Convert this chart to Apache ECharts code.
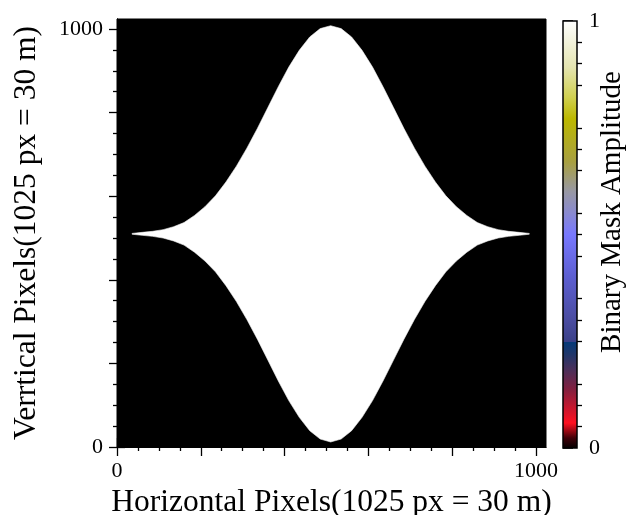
<!DOCTYPE html>
<html>
<head>
<meta charset="utf-8">
<script src="https://cdn.jsdelivr.net/npm/echarts@6/dist/echarts.min.js"></script>
<style>
  html, body { margin: 0; padding: 0; background: #fff; }
  #chart { width: 634px; height: 515px; }
</style>
</head>
<body>
<div id="chart"></div>
<script>
// Mask boundary: column positions and half-height of the white region about its centre row
const maskCenter = 510;
const maskX = [36, 60, 85, 110, 135, 160, 185, 210, 235, 260, 285, 310, 335, 360, 385, 410, 435, 460, 485, 510,
               535, 560, 585, 610, 635, 660, 685, 710, 735, 760, 785, 810, 835, 860, 885, 910, 935, 960, 984];
const maskHalf = [1, 3.5, 6, 10, 17, 27, 44, 65, 91, 124, 162, 205, 252, 302, 352, 399, 439, 471, 491, 498,
                  491, 471, 439, 399, 352, 302, 252, 205, 162, 124, 91, 65, 44, 27, 17, 10, 6, 3.5, 1];

// Axis extents and tick positions
const axisMax = 1024;
const majorTicks = [0, 200, 400, 600, 800, 1000];
const minorTicks = [50, 100, 150, 250, 300, 350, 450, 500, 550, 650, 700, 750, 850, 900, 950];
const tickLabels = [0, 1000];

// Colour bar
const barMajorTicks = [0, 0.2, 0.4, 0.6, 0.8, 1];
const barMinorTicks = [0.05, 0.1, 0.15, 0.25, 0.3, 0.35, 0.45, 0.5, 0.55, 0.65, 0.7, 0.75, 0.85, 0.9, 0.95];
const barLabels = [0, 1];
const barStops = [
  [0.00, '#000000'], [0.025, '#400008'], [0.06, '#ff1020'], [0.10, '#c01830'], [0.14, '#802040'],
  [0.18, '#502e58'], [0.22, '#20366a'], [0.249, '#053a78'], [0.2495, '#3a4088'], [0.30, '#4a4ca0'],
  [0.40, '#5c5ed0'], [0.50, '#7878ff'], [0.55, '#8a8ad0'], [0.60, '#9898a4'], [0.67, '#a8a040'],
  [0.77, '#bcb800'], [0.82, '#d0d050'], [0.89, '#e4e4b0'], [0.955, '#f4f4e0'], [1.00, '#ffffff']
];
const barTitle = 'Binary Mask Amplitude';

const FONT = 'Liberation Serif';
const plot = { left: 117, top: 19, width: 429, height: 428 };
const bar = { left: 563, top: 21, width: 14, height: 427 };

function plain(v) { return String(v); }

function valueAxis(gridIndex, position, ticks, len, opts) {
  return Object.assign({
    type: 'value', gridIndex: gridIndex, position: position, min: 0, max: axisMax,
    splitLine: { show: false },
    axisLine: { show: false },
    axisTick: { show: true, inside: false, length: len, customValues: ticks, lineStyle: { color: '#000', width: 1.3 } },
    axisLabel: { show: false }
  }, opts || {});
}

const labelStyle = { show: true, customValues: tickLabels, formatter: plain, color: '#000', fontFamily: FONT, fontSize: 22 };
const lineOn = { show: true, lineStyle: { color: '#000', width: 1 } };
const fixedGrid = { outerBoundsMode: 'none', containLabel: false };

const chart = echarts.init(document.getElementById('chart'), null, { renderer: 'canvas' });
chart.setOption({
  backgroundColor: '#fff',
  animation: false,
  grid: [
    Object.assign({ show: true, backgroundColor: '#000', borderColor: '#000', borderWidth: 1 }, fixedGrid, plot),
    Object.assign({ show: false }, fixedGrid, plot),
    Object.assign({ show: false }, fixedGrid, bar)
  ],
  xAxis: [
    valueAxis(0, 'bottom', majorTicks, 9, {
      axisLine: lineOn,
      axisLabel: Object.assign({ margin: 13 }, labelStyle),
      name: 'Horizontal Pixels(1025 px = 30 m)', nameLocation: 'middle', nameGap: 36,
      nameTextStyle: { color: '#000', fontFamily: FONT, fontSize: 31.5 }
    }),
    valueAxis(0, 'top', majorTicks, 9, { axisLine: lineOn }),
    valueAxis(1, 'bottom', minorTicks, 4),
    valueAxis(1, 'top', minorTicks, 4),
    { type: 'value', gridIndex: 2, min: 0, max: 1, show: false }
  ],
  yAxis: [
    valueAxis(0, 'left', majorTicks, 8, {
      axisLine: lineOn,
      axisLabel: Object.assign({ margin: 14 }, labelStyle),
      name: 'Verrtical Pixels(1025 px = 30 m)', nameLocation: 'middle', nameGap: 74, nameRotate: 90,
      nameTextStyle: { color: '#000', fontFamily: FONT, fontSize: 31.5 }
    }),
    valueAxis(0, 'right', majorTicks, 8, { axisLine: lineOn }),
    valueAxis(1, 'left', minorTicks, 4),
    valueAxis(1, 'right', minorTicks, 4),
    {
      type: 'value', gridIndex: 2, position: 'right', min: 0, max: 1,
      splitLine: { show: false },
      axisLine: { show: false },
      axisTick: { show: true, length: 10, customValues: barMajorTicks, lineStyle: { color: '#000', width: 1.5 } },
      axisLabel: { show: true, customValues: barLabels, formatter: plain, margin: 12, color: '#000', fontFamily: FONT, fontSize: 22 }
    },
    {
      type: 'value', gridIndex: 2, position: 'right', min: 0, max: 1,
      splitLine: { show: false }, axisLine: { show: false }, axisLabel: { show: false },
      axisTick: { show: true, length: 5, customValues: barMinorTicks, lineStyle: { color: '#000', width: 1.3 } }
    }
  ],
  graphic: [{
    type: 'text', x: 612, y: 212, rotation: Math.PI / 2,
    style: { text: barTitle, fill: '#000', font: '29px "' + FONT + '"', align: 'center', verticalAlign: 'middle' }
  }],
  series: [
    {
      // White region of the mask: upper boundary left-to-right, lower boundary back
      type: 'custom', xAxisIndex: 0, yAxisIndex: 0, clip: true,
      data: [[0, 0]],
      renderItem: function (params, api) {
        const pts = [];
        for (let i = 0; i < maskX.length; i++) pts.push(api.coord([maskX[i], maskCenter + maskHalf[i]]));
        for (let i = maskX.length - 1; i >= 0; i--) pts.push(api.coord([maskX[i], maskCenter - maskHalf[i]]));
        return { type: 'polygon', shape: { points: pts }, style: { fill: '#ffffff', stroke: '#f4f4f4', lineWidth: 0.6 } };
      }
    },
    {
      // Colour bar body
      type: 'custom', xAxisIndex: 4, yAxisIndex: 4,
      data: [[0, 0]],
      renderItem: function (params, api) {
        const p0 = api.coord([0, 0]);
        const p1 = api.coord([1, 1]);
        return {
          type: 'rect',
          shape: { x: p0[0], y: p1[1], width: p1[0] - p0[0], height: p0[1] - p1[1] },
          style: {
            fill: new echarts.graphic.LinearGradient(0, 1, 0, 0,
              barStops.map(function (s) { return { offset: s[0], color: s[1] }; })),
            stroke: '#000', lineWidth: 1.5
          }
        };
      }
    }
  ]
});
</script>
</body>
</html>
